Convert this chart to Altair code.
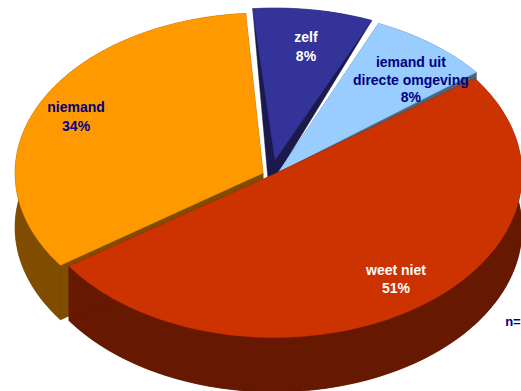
import math
import altair as alt
import pandas as pd

# Slices, clockwise from the red slice's leading edge
names = ["weet niet", "niemand", "zelf", "iemand uit directe omgeving"]
values = [51, 34, 8, 8]
top_colors = ["#CC3300", "#FF9900", "#333399", "#99CCFF"]
wall_colors = ["#661900", "#7F4C00", "#1A1A4D", "#4D6680"]

# Exploded position and shape of each slice, in pie radii
center_u = [0.008, -0.036, 0.012, 0.026]
center_v = [0.0, 0.008, 0.089, 0.014]
radius_u = [1.0, 1.0, 0.988, 1.012]
radius_v = [1.02, 1.0, 0.95, 1.0125]
turn = [1.0, 0.0, -1.2, -1.0]

START_ANGLE = 323.0
DEPTH = 0.34
X_DOMAIN = [-1.0968, 1.0040]
Y_DOMAIN = [-1.3544, 1.0894]
FONT = "Liberation Sans"


def rim(i, a0, a1):
    n = max(2, int(abs(a1 - a0) / 1.5))
    pts = []
    for k in range(n + 1):
        a = math.radians(a0 + (a1 - a0) * k / n + turn[i])
        pts.append((center_u[i] + radius_u[i] * math.cos(a),
                    center_v[i] - radius_v[i] * math.sin(a)))
    return pts


def drop(pts):
    return [(u, v - DEPTH) for u, v in pts]


def polygon(pts, color):
    frame = pd.DataFrame({"u": [p[0] for p in pts] + [pts[0][0]],
                          "v": [p[1] for p in pts] + [pts[0][1]]})
    frame["o"] = range(len(frame))
    return alt.Chart(frame).mark_line(
        fill=color, stroke=color, strokeWidth=0.4, interpolate="linear-closed"
    ).encode(
        x=alt.X("u:Q", scale=alt.Scale(domain=X_DOMAIN, nice=False, zero=False), axis=None),
        y=alt.Y("v:Q", scale=alt.Scale(domain=Y_DOMAIN, nice=False, zero=False), axis=None),
        order="o:Q",
    )


total = sum(values)
spans = []
angle = START_ANGLE
for val in values:
    spans.append((angle, angle + val / total * 360))
    angle += val / total * 360


def apex(i):
    return (center_u[i], center_v[i])


def walls(i):
    a0, a1 = spans[i]
    arc = rim(i, a0, a1)
    c = apex(i)
    color = wall_colors[i]
    return [
        polygon(drop([c] + arc), color),
        polygon(arc + drop(arc)[::-1], color),
        polygon([c, arc[0]] + drop([arc[0], c]), color),
        polygon([c, arc[-1]] + drop([arc[-1], c]), color),
    ]


def top(i):
    a0, a1 = spans[i]
    return polygon([apex(i)] + rim(i, a0, a1), top_colors[i])


# The zelf slice shows its inner wall on both sides of its top face
zelf_wall = polygon(rim(2, *spans[2]) + [(0.028, 0.014), (-0.016, -0.036)], wall_colors[2])

layers = []
layers += walls(3) + [zelf_wall] + walls(1)
layers += [top(3), top(2), top(1)]
layers += walls(0) + [top(0)]

# Labels
label_text = ["zelf", f"{values[2]}%", "iemand uit", "directe omgeving", f"{values[3]}%",
              "niemand", f"{values[1]}%", "weet niet", f"{values[0]}%"]
label_u = [0.137, 0.137, 0.560, 0.560, 0.560, -0.790, -0.790, 0.500, 0.500]
label_v = [0.852, 0.733, 0.696, 0.583, 0.477, 0.415, 0.296, -0.604, -0.717]
label_color = ["#FFFFFF", "#FFFFFF", "#000080", "#000080", "#000080",
               "#000080", "#000080", "#FFFFFF", "#FFFFFF"]

for t, u, v, col in zip(label_text, label_u, label_v, label_color):
    layers.append(
        alt.Chart(pd.DataFrame({"t": [t], "u": [u], "v": [v]})).mark_text(
            font=FONT, fontSize=14, fontWeight="bold", color=col, baseline="middle"
        ).encode(
            x=alt.X("u:Q", scale=alt.Scale(domain=X_DOMAIN, nice=False, zero=False), axis=None),
            y=alt.Y("v:Q", scale=alt.Scale(domain=Y_DOMAIN, nice=False, zero=False), axis=None),
            text="t:N",
        )
    )

layers.append(
    alt.Chart(pd.DataFrame({"t": ["n="], "u": [0.940], "v": [-0.923]})).mark_text(
        font=FONT, fontSize=13, fontWeight="bold", color="#000080", baseline="middle", align="left"
    ).encode(
        x=alt.X("u:Q", scale=alt.Scale(domain=X_DOMAIN, nice=False, zero=False), axis=None),
        y=alt.Y("v:Q", scale=alt.Scale(domain=Y_DOMAIN, nice=False, zero=False), axis=None),
        text="t:N",
    )
)

chart = alt.layer(*layers).properties(
    width=521, height=391, padding=0, autosize=alt.AutoSizeParams(type="none"),
    background="white",
).configure_view(stroke=None)

chart.save("out.html", embed_options={"renderer": "svg", "actions": False})
